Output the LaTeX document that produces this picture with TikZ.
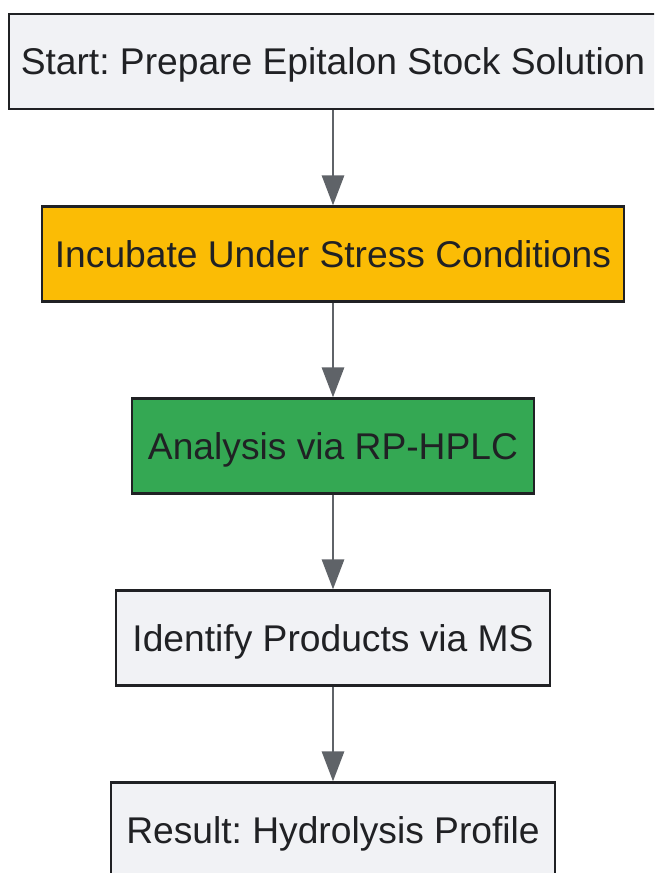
\documentclass[tikz,border=0pt]{standalone}
\usepackage{fontspec}
\setmainfont{Liberation Sans}
\frenchspacing
\usetikzlibrary{arrows.meta}
\definecolor{boxgray}{HTML}{F1F2F5}
\definecolor{boxyellow}{HTML}{FBBC05}
\definecolor{boxgreen}{HTML}{34A853}
\definecolor{linegray}{HTML}{5F6368}
\definecolor{textdark}{HTML}{202124}
\tikzset{
	stepbox/.style={draw=textdark,line width=1.9pt,text=textdark,inner sep=0pt,
		minimum height=71pt,text height=20pt,text depth=0pt,font=\fontsize{27.9}{32}\selectfont},
	flow/.style={->,color=linegray,line width=2.2pt}
}
\begin{document}
\begin{tikzpicture}[x=0.75pt,y=-0.75pt,>={Triangle[length=22.5pt,width=16.5pt]}]
	\useasboundingbox (0,0) rectangle (654,873);
	\clip (0,0) rectangle (654,873);
	\node[stepbox,fill=boxgray,minimum width=486pt] (start) at (333,61.5) {Start: Prepare Epitalon Stock Solution};
	\node[stepbox,fill=boxyellow,minimum width=436.5pt] (incub) at (333,254) {Incubate Under Stress Conditions};
	\node[stepbox,fill=boxgreen,minimum width=301.5pt] (hplc) at (333,446) {Analysis via RP-HPLC};
	\node[stepbox,fill=boxgray,minimum width=325.5pt] (ms) at (333,638) {Identify Products via MS};
	\node[stepbox,fill=boxgray,minimum width=333pt] (result) at (333,830) {Result: Hydrolysis Profile};
	\draw[flow] (start) -- (incub);
	\draw[flow] (incub) -- (hplc);
	\draw[flow] (hplc) -- (ms);
	\draw[flow] (ms) -- (result);
\end{tikzpicture}
\end{document}
